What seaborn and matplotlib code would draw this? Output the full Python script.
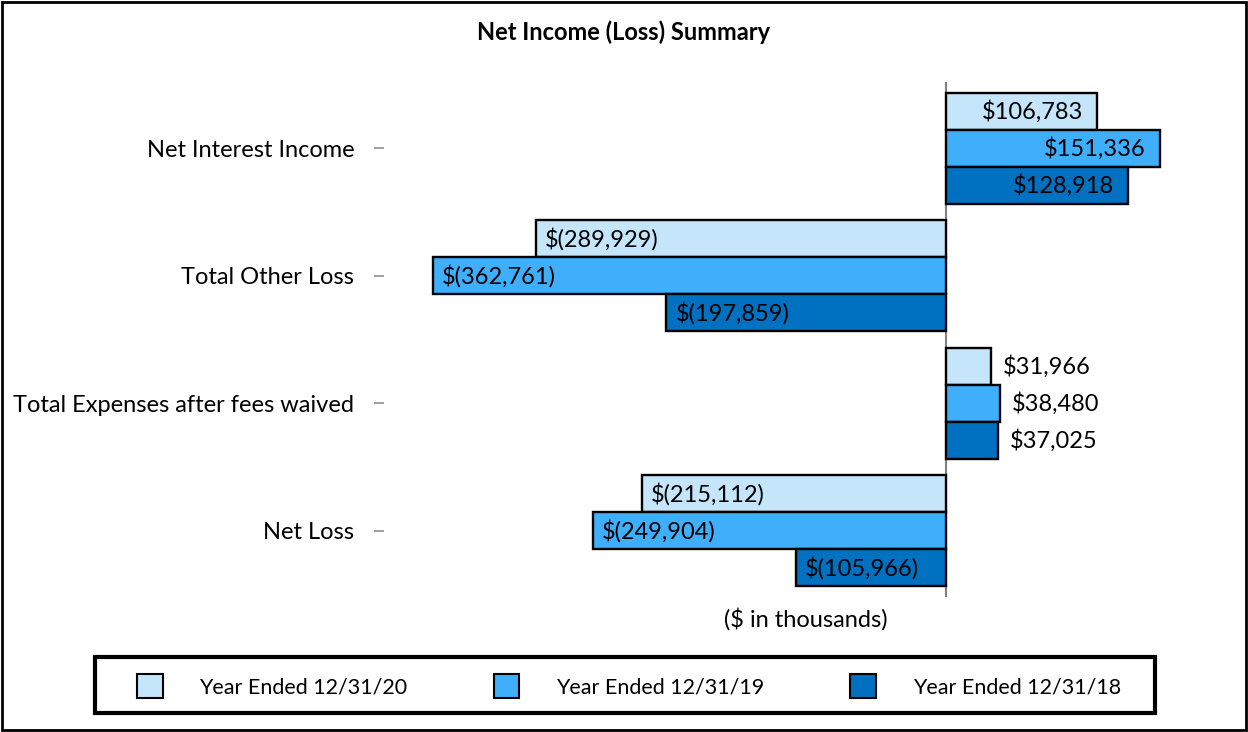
import pandas as pd
import numpy as np
import matplotlib.pyplot as plt
import matplotlib.patches as mpatches
import seaborn as sns

sns.set_style("white")
plt.rcParams['font.family'] = ['Lato', 'DejaVu Sans']
plt.rcParams['text.color'] = 'black'
plt.rcParams['axes.labelcolor'] = 'black'
plt.rcParams['ytick.labelcolor'] = 'black'

categories = ['Net Interest Income', 'Total Other Loss',
              'Total Expenses after fees waived', 'Net Loss']
years = ['Year Ended 12/31/20', 'Year Ended 12/31/19', 'Year Ended 12/31/18']
values_2020 = [106783, -289929, 31966, -215112]
values_2019 = [151336, -362761, 38480, -249904]
values_2018 = [128918, -197859, 37025, -105966]

year_palette = {
    'Year Ended 12/31/20': '#C5E5FB',
    'Year Ended 12/31/19': '#3FAEFB',
    'Year Ended 12/31/18': '#0070C0',
}

rows = []
for yr, vals in zip(years, [values_2020, values_2019, values_2018]):
    for cat, v in zip(categories, vals):
        rows.append({'category': cat, 'year': yr, 'value': v})
df = pd.DataFrame(rows)


def fmt(v):
    if v < 0:
        return '$({:,})'.format(-v)
    return '${:,}'.format(v)


fs = 17

fig = plt.figure(figsize=(12.48, 7.32), dpi=100)
ax = fig.add_axes([384 / 1248, 1 - 597 / 732, (1228 - 384) / 1248, (597 - 82) / 732])

sns.barplot(data=df, x='value', y='category', hue='year', order=categories,
            hue_order=years, palette=year_palette, orient='h', width=0.87,
            saturation=1, edgecolor='black', linewidth=1.7, ax=ax)

ax.set_xlim(-397500, 199500)
ax.set_ylim(3.52, -0.52)
ax.axvline(0, color='#808080', lw=1.5, zorder=0)

# value labels: inside the bar end, outside when the bar is too short
for cont in ax.containers:
    for bar in cont:
        v = bar.get_width()
        yc = bar.get_y() + bar.get_height() / 2
        if v < 0:
            ax.text(v + 6500, yc, fmt(int(round(v))), ha='left', va='center', fontsize=fs)
        elif v > 60000:
            ax.text(v - 10000, yc, fmt(int(round(v))), ha='right', va='center', fontsize=fs)
        else:
            ax.text(v + 8000, yc, fmt(int(round(v))), ha='left', va='center', fontsize=fs)

for s in ax.spines.values():
    s.set_visible(False)
ax.set_xticks([])
ax.set_ylabel('')
ax.set_xlabel('($ in thousands)', fontsize=fs, labelpad=8)
ax.tick_params(axis='y', left=True, length=7.5, width=1.2, color='#909090',
               pad=14, labelsize=fs)

# legend with its own box
ax.get_legend().remove()
handles = [mpatches.Patch(facecolor=year_palette[y], edgecolor='black', lw=1.5) for y in years]
fig.legend(handles, years, loc='center', ncol=3,
           bbox_to_anchor=(629 / 1248, 1 - 686 / 732),
           fontsize=15.5, frameon=False,
           handlelength=1.2, handleheight=1.4, handletextpad=1.7,
           columnspacing=4.0)
fig.patches.append(mpatches.Rectangle((95 / 1248, 1 - 713 / 732), 1060 / 1248, 56 / 732,
                                      transform=fig.transFigure, fill=False,
                                      edgecolor='black', lw=3))

fig.suptitle('Net Income (Loss) Summary', y=1 - 32 / 732, va='center',
             fontsize=17, fontweight='bold')

fig.patches.append(mpatches.Rectangle((0.002, 0.003), 0.996, 0.994, transform=fig.transFigure,
                                      fill=False, edgecolor='black', lw=2))

fig.savefig('out.png', dpi=100)
